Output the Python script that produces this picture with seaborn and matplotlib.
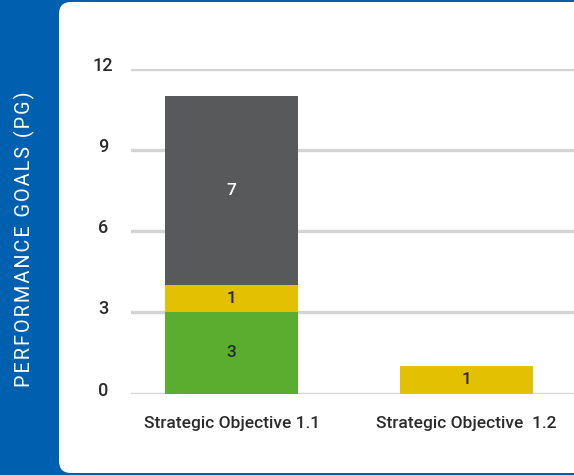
import numpy as np
import pandas as pd
import matplotlib
matplotlib.use("Agg")
import matplotlib.pyplot as plt
import matplotlib.transforms as mtransforms
from matplotlib.patches import FancyBboxPatch
import seaborn as sns

# data
objectives = ["Strategic Objective 1.1", "Strategic Objective  1.2"]
green_vals = [3, 0]
yellow_vals = [1, 1]
gray_vals = [7, 0]
y_ticks = [0, 3, 6, 9, 12]

BLUE = "#0060b0"
GREEN = "#5bad30"
YELLOW = "#e3c102"
GRAY = "#58595b"
TEXT = "#2b2b2b"

sns.set_theme(style="white")
plt.rcParams["font.family"] = ["Roboto", "DejaVu Sans"]

fig = plt.figure(figsize=(5.74, 4.75), dpi=100, facecolor=BLUE)

# white rounded panel
panel = FancyBboxPatch((59, 2), 560, 471, boxstyle="round,pad=0,rounding_size=12",
                       transform=mtransforms.IdentityTransform(),
                       facecolor="white", edgecolor="none", zorder=-10)
fig.patches.append(panel)

ax = fig.add_axes([131 / 574, 1 - 393.5 / 475, 1 - 131 / 574, (393.5 - 69) / 475])
ax.set_facecolor("none")

df = pd.DataFrame({"objective": objectives, "green": green_vals,
                   "yellow": yellow_vals, "gray": gray_vals})
bottom_yellow = df["green"].values
bottom_gray = df["green"].values + df["yellow"].values

layers = [("green", GREEN, np.zeros(len(df)), TEXT),
          ("yellow", YELLOW, bottom_yellow, TEXT),
          ("gray", GRAY, bottom_gray, "white")]

for col, color, bottom, lab_color in layers:
    sns.barplot(data=df, x="objective", y=col, color=color, saturation=1,
                width=0.566, bottom=bottom, ax=ax, zorder=3,
                edgecolor="none", linewidth=0)
    cont = ax.containers[-1]
    labels = [str(v) if v > 0 else "" for v in df[col]]
    ax.bar_label(cont, labels=labels, label_type="center", color=lab_color,
                 fontsize=12.5, fontweight="medium")

ax.set_ylim(0, 12)
ax.set_xlim(-0.428, 1.457)
ax.set_yticks(y_ticks)
ax.yaxis.grid(True, color="#d4d4d4", linewidth=2.4, zorder=0)
ax.set_axisbelow(True)
for s in ax.spines.values():
    s.set_visible(False)
ax.tick_params(axis="y", length=0, pad=20, labelsize=13, labelcolor=TEXT)
ax.tick_params(axis="x", length=0, pad=16, labelsize=12.5, labelcolor=TEXT)
ax.set_xlabel("")
ax.set_ylabel("")
for lab in ax.get_yticklabels():
    lab.set_fontweight("medium")
    lab.set_horizontalalignment("center")
    lab.set_transform(lab.get_transform() + mtransforms.ScaledTranslation(0, 5 / 100, fig.dpi_scale_trans))
for lab in ax.get_xticklabels():
    lab.set_fontweight("medium")

ylab = "\u200a".join("PERFORMANCE GOALS (PG)")
fig.text(24 / 574, 1 - 239 / 475, ylab, rotation=90,
         color="white", fontsize=14.3, ha="center", va="center")

fig.savefig("out.png", dpi=100, facecolor=BLUE)
